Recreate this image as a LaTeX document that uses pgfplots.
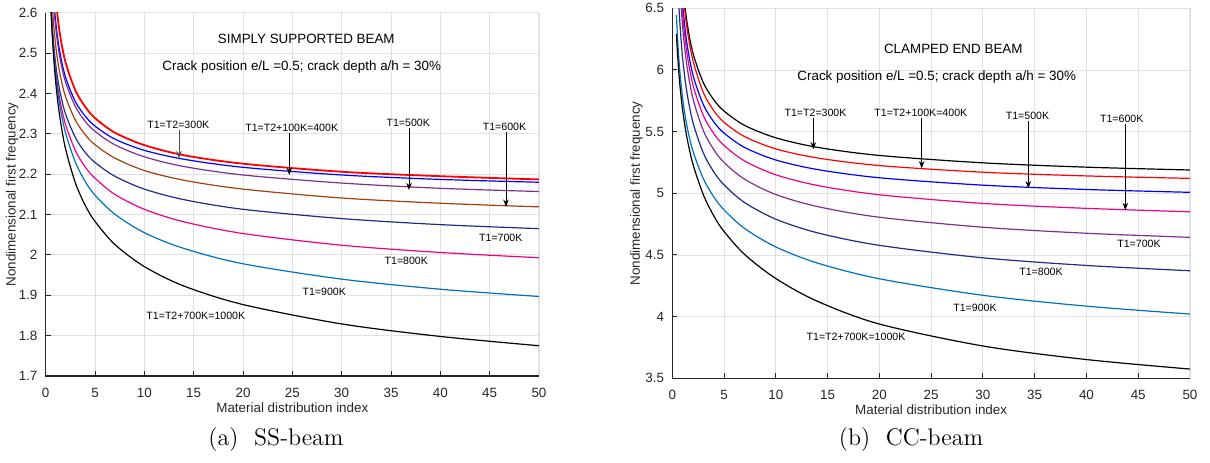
\documentclass[border=0pt]{standalone}
\usepackage{pgfplots}
\pgfplotsset{compat=1.18}
\usepackage{pgfplotstable}
\usepackage{fontspec}
\newfontfamily\arial{Liberation Sans}
\usetikzlibrary{arrows.meta}

\definecolor{mpurple}{RGB}{126,47,142}
\definecolor{mbrown}{RGB}{162,64,14}
\definecolor{mnavy}{RGB}{30,45,135}
\definecolor{mcyan}{RGB}{0,114,189}
\definecolor{axgray}{RGB}{38,38,38}
\definecolor{gridgray}{RGB}{225,225,225}

\pgfplotstableread{
x      red    blue   purple brown  navy   magenta cyan   black
0.5    2.879  2.781  2.756  2.696  2.641  2.629  2.627  2.630
0.7    2.752  2.675  2.656  2.605  2.555  2.541  2.537  2.530
1      2.641  2.581  2.566  2.521  2.475  2.458  2.449  2.431
1.4    2.554  2.507  2.494  2.454  2.410  2.389  2.375  2.347
2      2.478  2.441  2.429  2.393  2.350  2.324  2.303  2.264
3      2.408  2.380  2.368  2.334  2.291  2.259  2.230  2.179
4      2.367  2.344  2.331  2.298  2.254  2.218  2.182  2.123
5      2.339  2.319  2.306  2.273  2.229  2.190  2.148  2.083
7      2.303  2.287  2.273  2.240  2.195  2.150  2.101  2.026
10     2.272  2.259  2.243  2.209  2.163  2.113  2.055  1.971
14     2.247  2.237  2.219  2.185  2.137  2.082  2.016  1.923
20     2.226  2.217  2.198  2.163  2.113  2.053  1.978  1.877
30     2.206  2.198  2.178  2.141  2.090  2.024  1.940  1.829
40     2.195  2.187  2.165  2.128  2.075  2.006  1.915  1.798
50     2.187  2.180  2.157  2.119  2.065  1.993  1.897  1.775
}\ssdata

\pgfplotstableread{
x    A      B      C      D      E      F      G      H
0.4  7.935  7.950  7.765  7.640  7.501  7.040  6.444  6.291
0.5  7.571  7.560  7.399  7.293  7.170  6.778  6.267  6.137
0.7  7.106  7.080  6.933  6.845  6.735  6.423  6.015  5.908
1    6.706  6.660  6.531  6.452  6.347  6.094  5.768  5.673
1.4  6.399  6.350  6.223  6.146  6.040  5.824  5.552  5.458
2    6.135  6.074  5.958  5.877  5.766  5.573  5.340  5.235
3    5.896  5.816  5.718  5.630  5.508  5.327  5.118  4.988
4    5.759  5.671  5.580  5.485  5.355  5.175  4.972  4.818
5    5.667  5.576  5.488  5.387  5.250  5.068  4.865  4.690
7    5.550  5.459  5.371  5.261  5.113  4.924  4.714  4.503
10   5.450  5.360  5.270  5.150  4.990  4.790  4.565  4.309
14   5.373  5.287  5.193  5.064  4.893  4.680  4.435  4.125
20   5.307  5.225  5.126  4.988  4.806  4.578  4.307  3.940
30   5.247  5.171  5.066  4.918  4.725  4.477  4.173  3.762
40   5.212  5.141  5.031  4.878  4.676  4.415  4.085  3.652
50   5.189  5.121  5.008  4.850  4.643  4.372  4.021  3.575
}\ccdata

\pgfplotsset{
  beam/.style={
    scale only axis, anchor=south west,
    xmin=0, xmax=50, xtick={0,5,...,50},
    grid=major, major grid style={gridgray, line width=0.45pt},
    axis line style={gridgray, line width=0.5pt},
    tick pos=left, tick align=inside, major tick length=2.5pt,
    major tick style={axgray, line width=0.5pt},
    /pgf/number format/assume math mode=true,
    ticklabel style={font=\arial\fontsize{6.7}{8}\selectfont, text=axgray},
    xticklabel style={yshift=-2.5pt},
    yticklabel style={xshift=-0.6pt},
    label style={font=\arial\fontsize{6.7}{8}\selectfont, text=axgray},
    every axis plot/.append style={smooth, no marks, line width=0.6pt},
    after end axis/.code={\draw[axgray, line width=0.6pt] (rel axis cs:0,1) -- (rel axis cs:0,0) -- (rel axis cs:1,0);},
  }
}

\begin{document}
\begin{tikzpicture}
\path[use as bounding box] (0,0) rectangle (605pt,231pt);

% ---------- (a) SS beam ----------
\begin{axis}[beam,
  at={(22.85pt,43pt)}, width=246.65pt, height=181.65pt,
  ymin=1.7, ymax=2.6, ytick={1.7,1.8,...,2.61},
  xlabel={Material distribution index},
  ylabel={Nondimensional first frequency},
  xlabel style={at={(axis description cs:0.5,-0.088)}, anchor=center},
  ylabel style={at={(axis description cs:-0.068,0.5)}, anchor=center},
]
\addplot[red, line width=0.9pt] table[x=x, y=red] {\ssdata};
\addplot[blue] table[x=x, y=blue] {\ssdata};
\addplot[mpurple] table[x=x, y=purple] {\ssdata};
\addplot[mbrown] table[x=x, y=brown] {\ssdata};
\addplot[mnavy] table[x=x, y=navy] {\ssdata};
\addplot[magenta] table[x=x, y=magenta] {\ssdata};
\addplot[mcyan] table[x=x, y=cyan] {\ssdata};
\addplot[black] table[x=x, y=black] {\ssdata};
\end{axis}

% ---------- (b) CC beam ----------
\begin{axis}[beam,
  at={(336.15pt,41.85pt)}, width=258.85pt, height=185pt,
  ymin=3.5, ymax=6.5, ytick={3.5,4,...,6.5},
  xlabel={Material distribution index},
  ylabel={Nondimensional first frequency},
  xlabel style={at={(axis description cs:0.5,-0.084)}, anchor=center},
  ylabel style={at={(axis description cs:-0.0695,0.5)}, anchor=center},
]
\addplot[black] table[x=x, y=A] {\ccdata};
\addplot[red] table[x=x, y=B] {\ccdata};
\addplot[blue] table[x=x, y=C] {\ccdata};
\addplot[magenta] table[x=x, y=D] {\ccdata};
\addplot[mpurple] table[x=x, y=E] {\ccdata};
\addplot[mnavy] table[x=x, y=F] {\ccdata};
\addplot[mcyan] table[x=x, y=G] {\ccdata};
\addplot[black] table[x=x, y=H] {\ccdata};
\end{axis}

% ---------- annotations (pixel coordinates) ----------
\begin{scope}[x=0.5pt, y=-0.5pt, shift={(0pt,231pt)}]
\tikzset{
  ttl/.style={font=\arial\fontsize{6.7}{8}\selectfont, text=black, inner sep=0pt},
  lbl/.style={font=\arial\fontsize{5.3}{6}\selectfont, text=black, fill=white, inner sep=0.6pt},
  arr/.style={-{Stealth[length=3.6pt,width=2.8pt]}, line width=0.5pt, black},
}
% SS
\node[ttl] at (306.3,38.5) {SIMPLY SUPPORTED BEAM};
\node[ttl] at (301.7,66.7) {Crack position e/L =0.5; crack depth a/h = 30\%};
\node[lbl] at (178.3,125) {T1=T2=300K};
\draw[arr, draw=black!70] (179,129.5) -- (179,158.3);
\node[lbl] at (291.7,127.7) {T1=T2+100K=400K};
\draw[arr] (289.3,132.5) -- (289.3,175);
\node[lbl] at (408.2,123.3) {T1=500K};
\draw[arr] (409,128) -- (409,190);
\node[lbl] at (504.5,126.7) {T1=600K};
\draw[arr] (506,131.5) -- (506,206.7);
\node[lbl] at (500.8,238.3) {T1=700K};
\node[lbl] at (406.3,261) {T1=800K};
\node[lbl] at (324.2,291.7) {T1=900K};
\node[lbl] at (195.8,315.7) {T1=T2+700K=1000K};
% CC
\node[ttl] at (953.3,49.3) {CLAMPED END BEAM};
\node[ttl] at (936.7,77.3) {Crack position e/L =0.5; crack depth a/h = 30\%};
\node[lbl] at (815.5,113.3) {T1=T2=300K};
\draw[arr] (813.3,118) -- (813.3,149.3);
\node[lbl] at (920.8,113.3) {T1=T2+100K=400K};
\draw[arr] (921.7,118) -- (921.7,168.3);
\node[lbl] at (1027.5,115.7) {T1=500K};
\draw[arr] (1028.3,120.5) -- (1028.3,188.3);
\node[lbl] at (1121.7,119) {T1=600K};
\draw[arr] (1125.3,124) -- (1125.3,210);
\node[lbl] at (1139,244.3) {T1=700K};
\node[lbl] at (1041,271.7) {T1=800K};
\node[lbl] at (975,307.7) {T1=900K};
\node[lbl] at (856,337.3) {T1=T2+700K=1000K};
% captions
\node[font=\fontsize{12}{14}\selectfont, inner sep=0pt] at (276,440) {(a)\ \ SS-beam};
\node[font=\fontsize{12}{14}\selectfont, inner sep=0pt] at (911,440) {(b)\ \ CC-beam};
\end{scope}
\end{tikzpicture}
\end{document}
